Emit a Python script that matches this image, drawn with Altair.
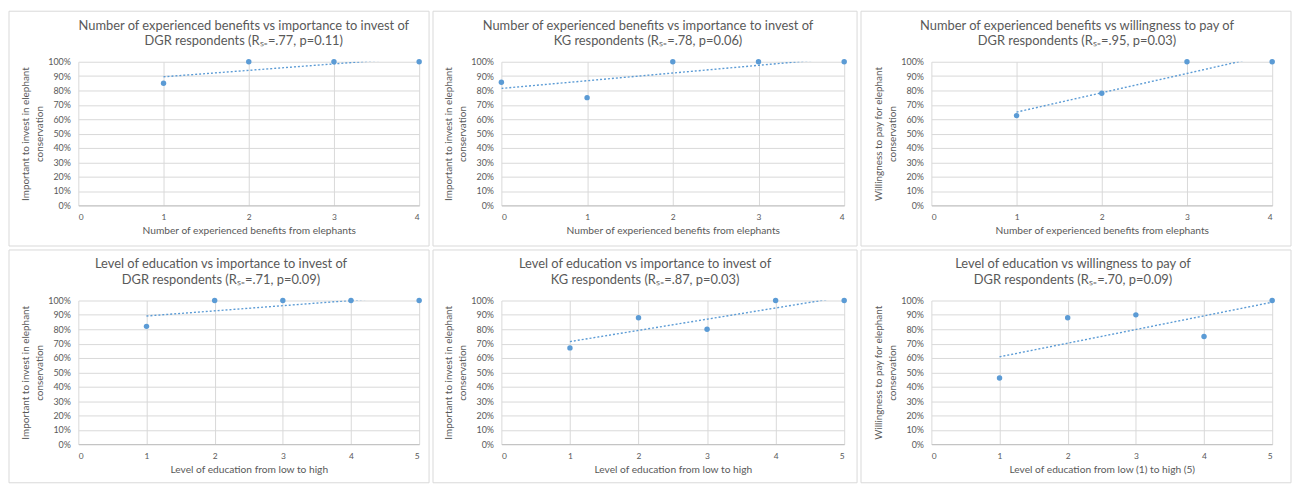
import altair as alt
import pandas as pd

# ---- data ----
benefits_dgr = [1, 2, 3, 4]
benefits_kg = [0, 1, 2, 3, 4]
education = [1, 2, 3, 4, 5]

invest_dgr_by_benefits = [0.85, 1.00, 1.00, 1.00]
invest_kg_by_benefits = [0.857, 0.75, 1.00, 1.00, 1.00]
pay_dgr_by_benefits = [0.625, 0.78, 1.00, 1.00]
invest_dgr_by_edu = [0.82, 1.00, 1.00, 1.00, 1.00]
invest_kg_by_edu = [0.67, 0.88, 0.80, 1.00, 1.00]
pay_dgr_by_edu = [0.46, 0.88, 0.90, 0.75, 1.00]

titles = [
    ["Number of experienced benefits vs importance to invest of", "DGR respondents (Rₛ₌=.77, p=0.11)"],
    ["Number of experienced benefits vs importance to invest of", "KG respondents (Rₛ₌=.78, p=0.06)"],
    ["Number of experienced benefits vs willingness to pay of", "DGR respondents (Rₛ₌=.95, p=0.03)"],
    ["Level of education vs importance to invest of", "DGR respondents (Rₛ₌=.71, p=0.09)"],
    ["Level of education vs importance to invest of", "KG respondents (Rₛ₌=.87, p=0.03)"],
    ["Level of education vs willingness to pay of", "DGR respondents (Rₛ₌=.70, p=0.09)"],
]
y_invest = ["Important to invest in elephant", "conservation"]
y_pay = ["Willingness to pay for elephant", "conservation"]
x_benefits = "Number of experienced benefits from elephants"
x_edu = "Level of education from low to high"
x_edu2 = "Level of education from low (1) to high (5)"
y_ticks = [0.0, 0.1, 0.2, 0.3, 0.4, 0.5, 0.6, 0.7, 0.8, 0.9, 1.0]

BLUE = "#5B9BD5"
GRID = "#d9d9d9"
TXT = "#595959"
FONT = "Lato"
H = 145


def panel(xs, ys, title, ytitle, xtitle, xmax, width, box, dx):
    df = pd.DataFrame({"x": xs, "y": ys})
    xenc = alt.X(
        "x:Q",
        scale=alt.Scale(domain=[0, xmax], nice=False, zero=True),
        axis=alt.Axis(
            values=list(range(xmax + 1)), format="d", grid=True, gridColor=GRID,
            domain=True, domainColor="#bfbfbf", ticks=False,
            labelFontSize=8.5, labelColor=TXT, labelFont=FONT, labelPadding=7,
            title=xtitle, titleFontSize=10.3, titleColor=TXT, titleFont=FONT,
            titleFontWeight="normal", titlePadding=5,
        ),
    )
    yenc = alt.Y(
        "y:Q",
        scale=alt.Scale(domain=[0, 1], nice=False),
        axis=alt.Axis(
            values=y_ticks, format=".0%", grid=True, gridColor=GRID,
            domain=False, ticks=False, labelOverlap=False,
            labelFontSize=9, labelColor=TXT, labelFont=FONT, labelPadding=8,
            title=ytitle, titleFontSize=10, titleColor=TXT, titleFont=FONT,
            titleFontWeight="normal", titlePadding=3, titleLineHeight=14,
        ),
    )
    base = alt.Chart(df).encode(x=xenc, y=yenc)
    trend = base.transform_regression("x", "y").mark_line(
        color=BLUE, strokeDash=[2, 2], strokeWidth=1.4, clip=True
    )
    pts = base.mark_circle(size=30, color=BLUE, opacity=1)
    border = alt.Chart(pd.DataFrame({"k": [0]})).mark_rect(
        fill="transparent", stroke=GRID, strokeWidth=1
    ).encode(
        x=alt.value(box[0]), x2=alt.value(box[1]),
        y=alt.value(box[2]), y2=alt.value(box[3]),
    )
    return alt.layer(border, pts, trend).properties(
        width=width, height=H,
        title=alt.TitleParams(
            text=title, fontSize=13, font=FONT, color=TXT, fontWeight="normal",
            anchor="middle", dx=dx, offset=-38, lineHeight=16,
        ),
    )


p1 = panel(benefits_dgr, invest_dgr_by_benefits, titles[0], y_invest, x_benefits, 4, 344, (-70, 354, -51, 186), -5)
p2 = panel(benefits_kg, invest_kg_by_benefits, titles[1], y_invest, x_benefits, 4, 346, (-69, 359, -51, 186), -25)
p3 = panel(benefits_dgr, pay_dgr_by_benefits, titles[2], y_pay, x_benefits, 4, 344, (-71, 363, -51, 186), -25)
p4 = panel(education, invest_dgr_by_edu, titles[3], y_invest, x_edu, 5, 344, (-70, 354, -51, 184), -28)
p5 = panel(education, invest_kg_by_edu, titles[4], y_invest, x_edu, 5, 346, (-69, 359, -51, 184), -28)
p6 = panel(education, pay_dgr_by_edu, titles[5], y_pay, x_edu2, 5, 344, (-71, 363, -51, 184), -29)

chart = alt.vconcat(
    alt.hconcat(p1, p2, p3, spacing=2),
    alt.hconcat(p4, p5, p6, spacing=2),
    spacing=2,
).properties(padding=0, background="white").configure_view(strokeWidth=0)

chart.save("out.html", embed_options={"renderer": "svg", "actions": False})
